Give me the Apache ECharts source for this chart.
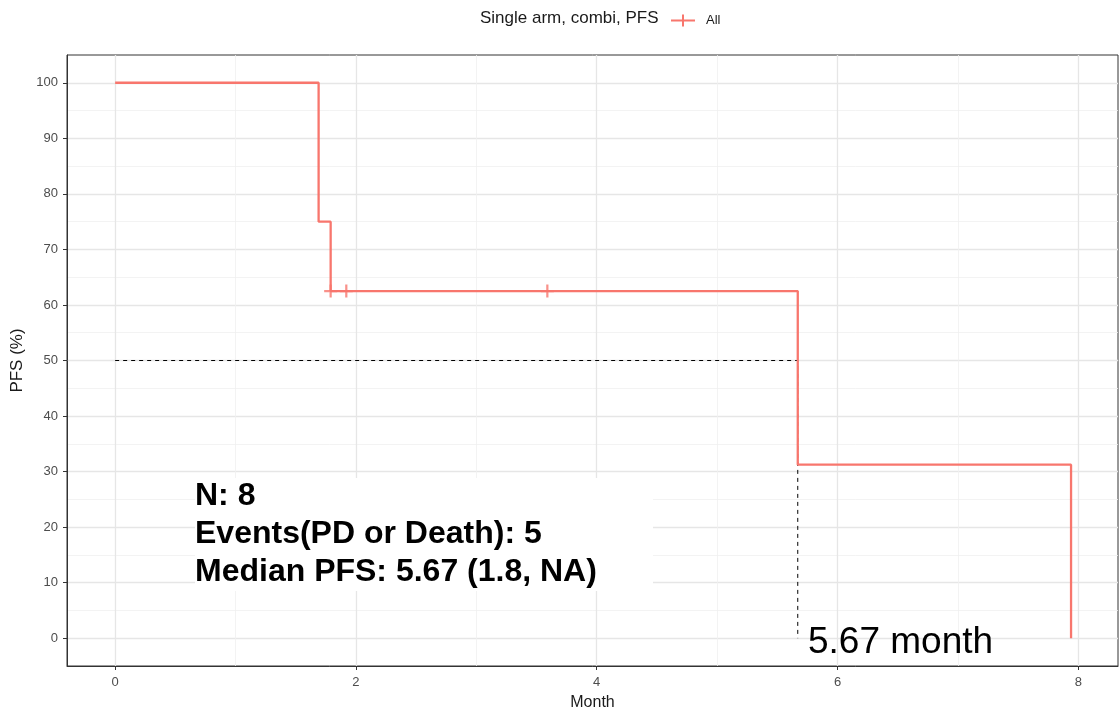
<!DOCTYPE html>
<html>
<head>
<meta charset="utf-8">
<script src="https://cdn.jsdelivr.net/npm/echarts@6/dist/echarts.min.js"></script>
<style>
  html, body { margin: 0; padding: 0; background: #fff; }
  #chart { width: 1119px; height: 713px; }
</style>
</head>
<body>
<div id="chart"></div>
<script>
// Kaplan-Meier steps (month, PFS %)
var stepTimes = [0, 1.69, 1.79, 5.67, 7.94];
var stepSurv = [100, 75, 62.5, 31.25, 0];
// censored patients
var censorTimes = [1.79, 1.92, 3.59];
var censorSurv = [62.5, 62.5, 62.5];
var medianPFS = 5.67;
var medianLevel = 50;
var xMajorTicks = [0, 2, 4, 6, 8];
var xMinorTicks = [1, 3, 5, 7];
var yMajorTicks = [0, 10, 20, 30, 40, 50, 60, 70, 80, 90, 100];
var yMinorTicks = [5, 15, 25, 35, 45, 55, 65, 75, 85, 95];
var statLines = ["N: 8", "Events(PD or Death): 5", "Median PFS: 5.67 (1.8, NA)"];

var RED = "#F8766D";
var FONT = "Liberation Sans, Arial, sans-serif";

function zip(a, b) {
  return a.map(function (v, i) { return [v, b[i]]; });
}

var chart = echarts.init(document.getElementById("chart"));

var axisBase = {
  type: "value",
  min: -0.4,
  max: 8.33,
};

chart.setOption({
  animation: false,
  textStyle: { fontFamily: FONT },
  title: {
    text: "Single arm, combi, PFS",
    left: 475,
    top: 5,
    textStyle: { fontSize: 17, fontWeight: "normal", color: "#1a1a1a", fontFamily: FONT },
  },
  legend: {
    left: 666,
    top: 9,
    itemWidth: 24,
    itemHeight: 12,
    itemGap: 4,
    data: [{
      name: "All",
      icon: "path://M0,5L24,5L24,7L0,7Z M11,0L13,0L13,12L11,12Z",
    }],
    textStyle: { fontSize: 13, color: "#1a1a1a", fontFamily: FONT, padding: [0, 0, 0, 6] },
  },
  grid: {
    left: 67,
    top: 55,
    right: 1,
    bottom: 47,
    outerBoundsMode: "none",
    containLabel: false,
    show: true,
    borderColor: "#333",
    borderWidth: 1,
  },
  xAxis: [
    Object.assign({}, axisBase, {
      name: "Month",
      nameLocation: "middle",
      nameGap: 29,
      nameTextStyle: { fontSize: 16, color: "#1a1a1a" },
      axisLine: { show: true, onZero: false, lineStyle: { color: "#333" } },
      axisTick: { show: true, length: 4, customValues: xMajorTicks, lineStyle: { color: "#333" } },
      axisLabel: { customValues: xMajorTicks, fontSize: 13, color: "#4d4d4d", margin: 10 },
      splitLine: { show: true, lineStyle: { color: "#e6e6e6", width: 1.3 } },
    }),
    Object.assign({}, axisBase, {
      position: "top",
      axisLine: { show: false, onZero: false },
      axisTick: { show: false, customValues: xMinorTicks },
      axisLabel: { show: false, customValues: xMinorTicks },
      splitLine: { show: true, lineStyle: { color: "#f0f0f0", width: 0.8 } },
    }),
  ],
  yAxis: [
    {
      type: "value",
      min: -5,
      max: 105,
      interval: 5,
      name: "PFS (%)",
      nameLocation: "middle",
      nameGap: 37,
      nameTextStyle: { fontSize: 17, color: "#1a1a1a" },
      axisLine: { show: true, onZero: false, lineStyle: { color: "#333" } },
      axisTick: { show: true, length: 4, customValues: yMajorTicks, lineStyle: { color: "#333" } },
      axisLabel: { customValues: yMajorTicks, fontSize: 13, color: "#4d4d4d", margin: 9 },
      splitLine: { show: true, lineStyle: { color: "#e6e6e6", width: 1.3 } },
    },
    {
      type: "value",
      min: -5,
      max: 105,
      interval: 5,
      position: "right",
      axisLine: { show: false, onZero: false },
      axisTick: { show: false, customValues: yMinorTicks },
      axisLabel: { show: false, customValues: yMinorTicks },
      splitLine: { show: true, lineStyle: { color: "#f0f0f0", width: 0.8 } },
    },
  ],
  series: [
    {
      name: "median",
      type: "line",
      data: [[0, medianLevel], [medianPFS, medianLevel], [medianPFS, 0]],
      symbol: "none",
      silent: true,
      lineStyle: { color: "#000", width: 1, type: [4, 4] },
      z: 3,
    },
    {
      name: "All",
      type: "line",
      step: "end",
      data: zip(stepTimes, stepSurv),
      symbol: "none",
      itemStyle: { color: RED },
      lineStyle: { color: RED, width: 2.3 },
      z: 4,
    },
    {
      name: "All",
      type: "scatter",
      data: zip(censorTimes, censorSurv),
      symbol: "path://M0,5.8L14,5.8L14,8.2L0,8.2Z M5.8,0L8.2,0L8.2,14L5.8,14Z",
      symbolSize: 13,
      itemStyle: { color: RED },
      z: 5,
    },
  ],
  graphic: [
    {
      type: "rect",
      shape: { x: 195, y: 478, width: 458, height: 113 },
      style: { fill: "#fff" },
      z: 2,
    },
    {
      type: "text",
      left: 195,
      top: 477,
      z: 3,
      style: {
        text: statLines.join("\n"),
        font: "bold 32px " + FONT,
        lineHeight: 38,
        fill: "#000",
      },
    },
    {
      type: "text",
      left: 808,
      top: 624,
      z: 3,
      style: {
        text: medianPFS.toFixed(2) + " month",
        font: "37px " + FONT,
        fill: "#000",
      },
    },
  ],
});
</script>
</body>
</html>
